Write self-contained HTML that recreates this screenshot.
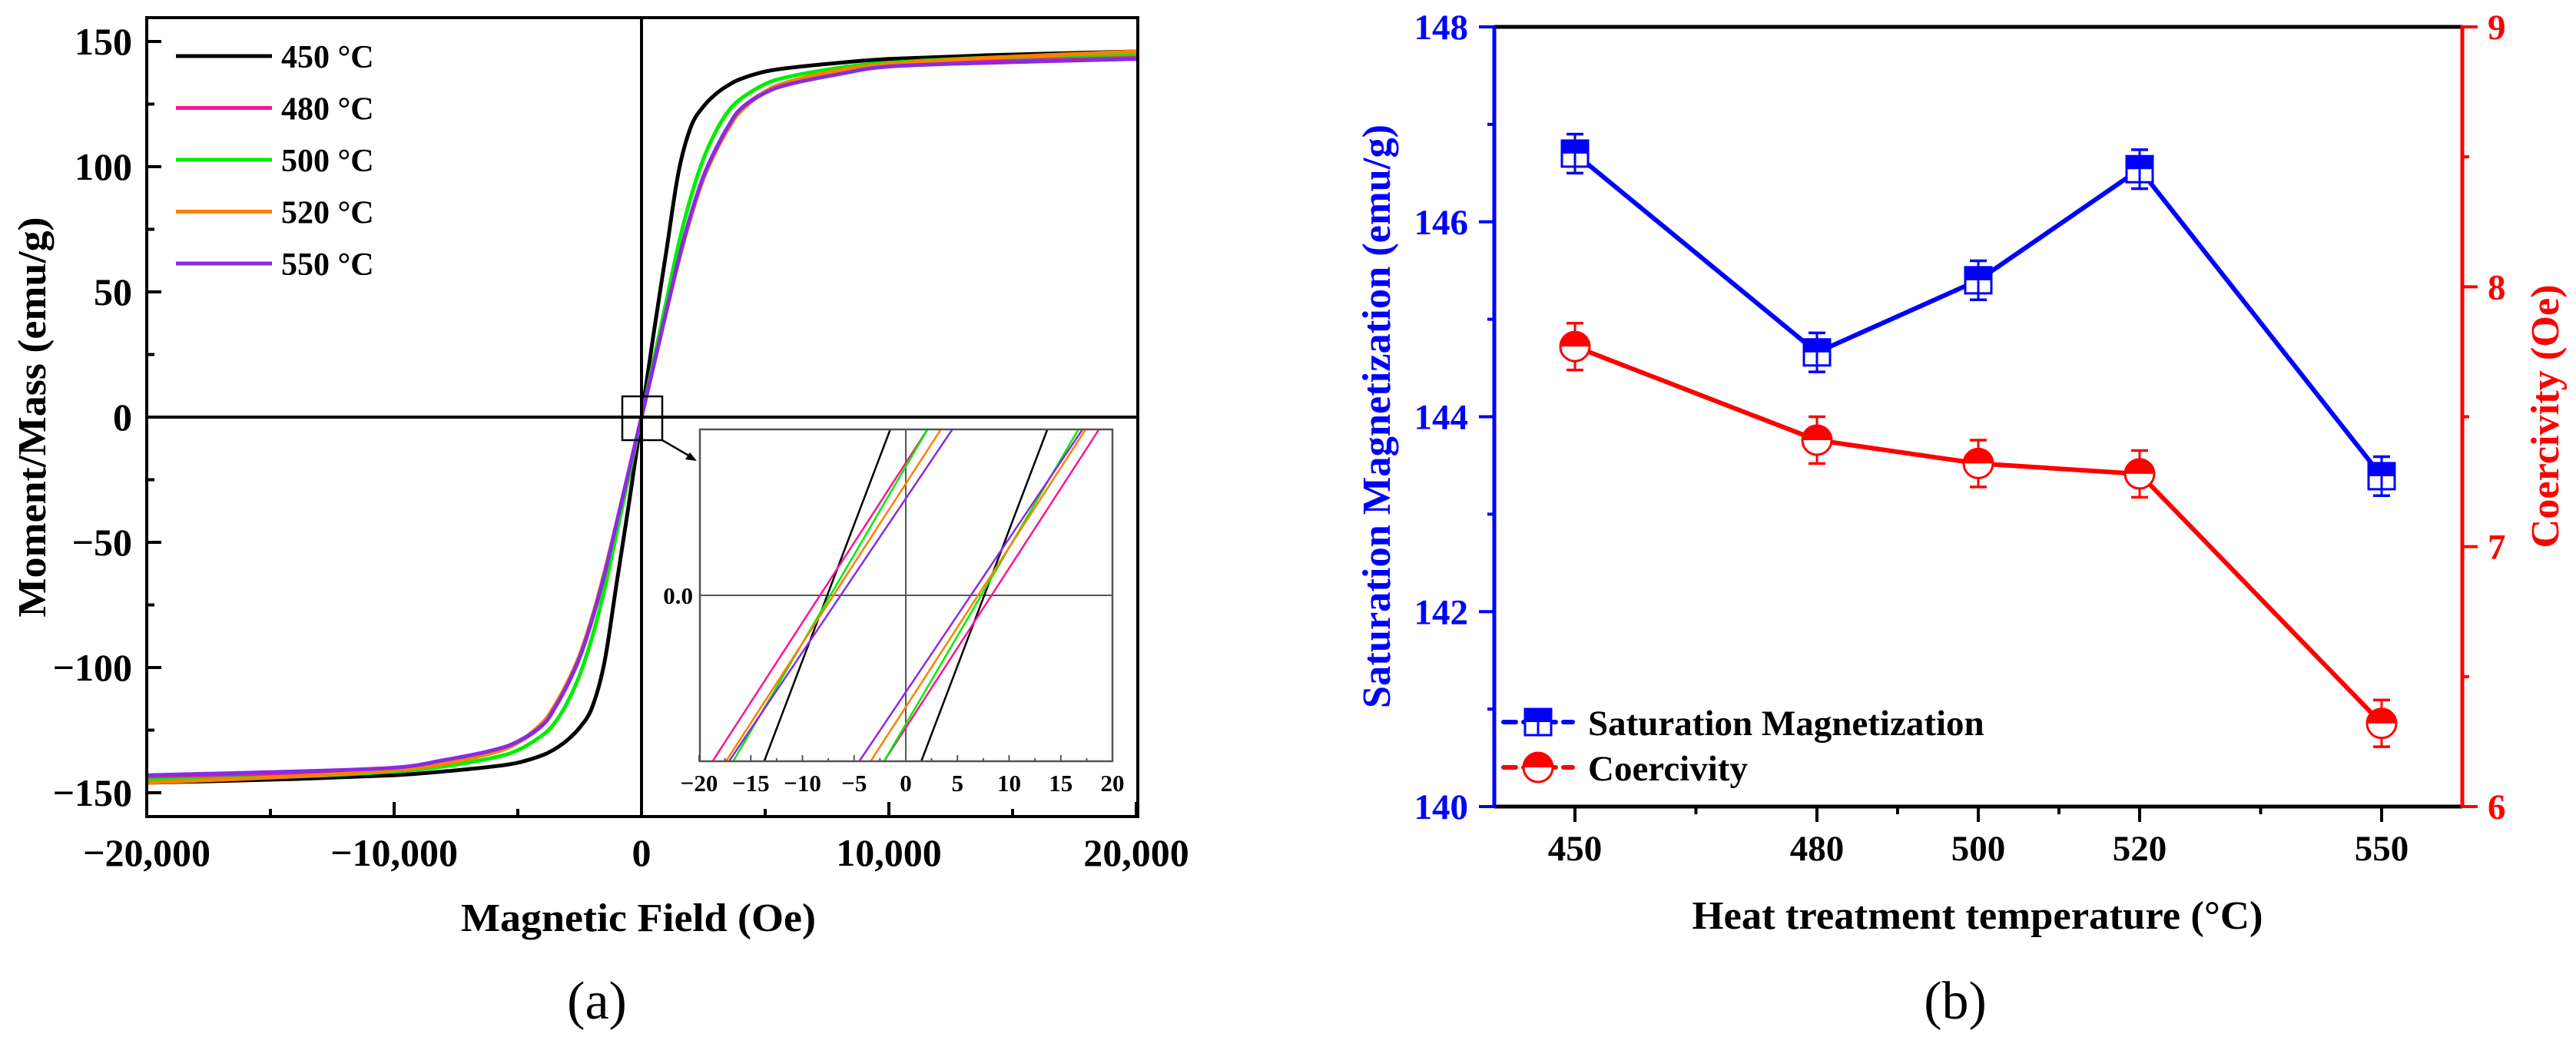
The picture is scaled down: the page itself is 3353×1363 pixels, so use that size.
<!DOCTYPE html>
<html><head><meta charset="utf-8"><style>
html,body{margin:0;padding:0;background:#fff;}
svg{display:block;font-family:"Liberation Serif",serif;font-weight:bold;}
</style></head><body>
<svg id="fig" xmlns="http://www.w3.org/2000/svg" width="3353" height="1363" viewBox="0 0 3353 1363">
<rect width="3353" height="1363" fill="#fff"/>
<g id="pa"></g>
<g id="pb"></g>
</svg>
<script>
// ---------- Panel (a) data ----------
const seriesNames = ["450 °C","480 °C","500 °C","520 °C","550 °C"];
const seriesColors = ["#000000","#ff1493","#00ee00","#ff8000","#8a2be2"];
const fieldH = [0,500,1000,1500,2000,2500,3000,3500,4000,5000,6000,8000,10000,14000,20000];
const m450 = [0,34,66,98,116,124,129,132.5,135,138,139.5,141.5,143,144.5,146];
const m480 = [0,21,42,63,81,96,107,116,123,130,134,138,140.5,142.5,144.5];
const m500 = [0,23,46,69,88,103,114,122,127,133,136,139.5,141.5,143.5,145];
const m520 = [0,21,42,62,80,95,106,115,122,130,134,138.5,141,143.5,146];
const m550 = [0,21,42,63,81,96,107,116,123,129.5,133,137,140,141.5,143];
const aXTicks = [-20000,-10000,0,10000,20000];
const aXTickLabels = ["\u221220,000","\u221210,000","0","10,000","20,000"];
const aYTicks = [-150,-100,-50,0,50,100,150];
const aYTickLabels = ["\u2212150","\u2212100","\u221250","0","50","100","150"];
// inset: coercive field crossing and top-edge x position (Oe) per series
const insetZeroX = [7.6,8.3,7.3,7.0,6.3];
const insetTopX = [13.7,18.7,16.7,17.4,17.1];
const insetTicks = [-20,-15,-10,-5,0,5,10,15,20];
const insetTickLabels = ["\u221220","\u221215","\u221210","\u22125","0","5","10","15","20"];

// ---------- Panel (b) data ----------
const temps = [450,480,500,520,550];
const bXTickLabels = ["450","480","500","520","550"];
const satMag = [146.70,144.66,145.40,146.54,143.39];
const satErr = [0.2,0.2,0.2,0.2,0.2];
const coerc = [7.77,7.41,7.32,7.28,6.32];
const coercErr = [0.09,0.09,0.09,0.09,0.09];
const bLeftTicks = [140,142,144,146,148];
const bRightTicks = [6,7,8,9];

const NS="http://www.w3.org/2000/svg";
function mk(parent,tag,attrs,text){const e=document.createElementNS(NS,tag);for(const k in attrs)e.setAttribute(k,attrs[k]);if(text!==undefined)e.textContent=text;parent.appendChild(e);return e;}
function smooth(pts){let d="M"+pts[0][0].toFixed(1)+","+pts[0][1].toFixed(1);
 for(let i=0;i<pts.length-1;i++){const p0=pts[Math.max(0,i-1)],p1=pts[i],p2=pts[i+1],p3=pts[Math.min(pts.length-1,i+2)];
  const c1=[p1[0]+(p2[0]-p0[0])/6,p1[1]+(p2[1]-p0[1])/6],c2=[p2[0]-(p3[0]-p1[0])/6,p2[1]-(p3[1]-p1[1])/6];
  d+=" C"+c1[0].toFixed(1)+","+c1[1].toFixed(1)+" "+c2[0].toFixed(1)+","+c2[1].toFixed(1)+" "+p2[0].toFixed(1)+","+p2[1].toFixed(1);}
 return d;}

// ---------- Panel (a) drawing ----------
const pa=document.getElementById('pa');
const aL=191,aR=1481,aT=23,aB=1063;
const ax=h=>835+h*(644/20000);
const ay=m=>543-m*(163/50);
const clipA=mk(pa,'clipPath',{id:'clipA'});mk(clipA,'rect',{x:aL,y:aT,width:aR-aL,height:aB-aT});
const allM=[m450,m480,m500,m520,m550];
const curves=mk(pa,'g',{'clip-path':'url(#clipA)'});


allM.forEach((ms,si)=>{
  const pts=[];
  for(let i=fieldH.length-1;i>0;i--)pts.push([ax(-fieldH[i]),ay(-ms[i])]);
  for(let i=0;i<fieldH.length;i++)pts.push([ax(fieldH[i]),ay(ms[i])]);
  const p=mk(curves,'path',{d:smooth(pts),fill:'none',stroke:seriesColors[si],'stroke-width':5,'stroke-linejoin':'round'});
  
  
});
// zero lines
mk(pa,'line',{x1:aL,y1:ay(0),x2:aR,y2:ay(0),stroke:'#000','stroke-width':4,});
mk(pa,'line',{x1:ax(0),y1:aT,x2:ax(0),y2:aB,stroke:'#000','stroke-width':4,});
mk(pa,'rect',{x:aL,y:aT,width:aR-aL,height:aB-aT,fill:'none',stroke:'#000','stroke-width':4,});
// ticks
for(let v=-150;v<=150;v+=25){const maj=v%50===0;const t=mk(pa,'line',{x1:aL,y1:ay(v),x2:aL+(maj?19:10),y2:ay(v),stroke:'#000','stroke-width':4});}
for(let v=-20000;v<=20000;v+=5000){const maj=v%10000===0;const t=mk(pa,'line',{x1:ax(v),y1:aB,x2:ax(v),y2:aB-(maj?19:10),stroke:'#000','stroke-width':4});}
aYTicks.forEach((v,i)=>{const t=mk(pa,'text',{x:172,y:ay(v)+17,'text-anchor':'end','font-size':50},aYTickLabels[i]);});
aXTicks.forEach((v,i)=>{const t=mk(pa,'text',{x:ax(v),y:1127,'text-anchor':'middle','font-size':50},aXTickLabels[i]);});
mk(pa,'text',{x:831,y:1212,'text-anchor':'middle','font-size':52,textLength:462,lengthAdjust:'spacingAndGlyphs',},'Magnetic Field (Oe)');
mk(pa,'text',{x:0,y:0,transform:'translate(59,543) rotate(-90)','text-anchor':'middle','font-size':52,textLength:521,lengthAdjust:'spacingAndGlyphs',},'Moment/Mass (emu/g)');
mk(pa,'text',{x:777,y:1326,'text-anchor':'middle','font-size':70,'font-weight':'normal',},'(a)');
// legend
const lg=mk(pa,'g',{});
seriesNames.forEach((n,i)=>{const y=73+i*67.5;
  const l=mk(lg,'line',{x1:229,y1:y,x2:354,y2:y,stroke:seriesColors[i],'stroke-width':5});
  const t=mk(lg,'text',{x:366,y:y+15,'font-size':42},n);});
// zoom box + arrow
mk(pa,'rect',{x:810,y:516,width:52,height:57,fill:'none',stroke:'#000','stroke-width':2.5,});
mk(pa,'line',{x1:862,y1:573,x2:898,y2:594,stroke:'#000','stroke-width':2.5,});
mk(pa,'polygon',{points:'907,600 892,598 898,589','fill':'#000',});
// inset
const iL=911,iR=1448,iT=559,iB=991;
const ix=v=>1179+v*(iR-1179)/20;
const iy=v=>775-v*(iB-iT)/2;
const ins=mk(pa,'g',{});
mk(ins,'rect',{x:iL,y:iT,width:iR-iL,height:iB-iT,fill:'#fff',stroke:'none'});
const clipI=mk(ins,'clipPath',{id:'clipI'});mk(clipI,'rect',{x:iL,y:iT,width:iR-iL,height:iB-iT});
const il=mk(ins,'g',{'clip-path':'url(#clipI)'});
mk(il,'line',{x1:iL,y1:iy(0),x2:iR,y2:iy(0),stroke:'#555','stroke-width':2});
mk(il,'line',{x1:ix(0),y1:iT,x2:ix(0),y2:iB,stroke:'#555','stroke-width':2});
insetZeroX.forEach((z,i)=>{const top=insetTopX[i],bot=2*z-top;
  const r=mk(il,'line',{x1:ix(bot),y1:iy(-1),x2:ix(top),y2:iy(1),stroke:seriesColors[i],'stroke-width':2.5});
  const l=mk(il,'line',{x1:ix(-top),y1:iy(-1),x2:ix(-bot),y2:iy(1),stroke:seriesColors[i],'stroke-width':2.5});});
mk(ins,'rect',{x:iL,y:iT,width:iR-iL,height:iB-iT,fill:'none',stroke:'#555','stroke-width':2.5});
for(let v=-20;v<=20;v+=2.5){const maj=v%5===0;const t=mk(ins,'line',{x1:ix(v),y1:iB,x2:ix(v),y2:iB-(maj?8:4),stroke:'#555','stroke-width':2});}
insetTicks.forEach((v,i)=>{const t=mk(ins,'text',{x:ix(v),y:1030,'text-anchor':'middle','font-size':31},insetTickLabels[i]);});
mk(ins,'text',{x:902,y:786,'text-anchor':'end','font-size':31,},'0.0');

// ---------- Panel (b) drawing ----------
const pb=document.getElementById('pb');
const bL=1945,bR=3205,bT=35,bB=1050;
const bx=t=>2050+(t-450)*10.5;
const byL=v=>bB-(v-140)*(bB-bT)/8;
const byR=v=>bB-(v-6)*(bB-bT)/3;
const BLUE='#0000ff',RED='#ff0000';
mk(pb,'line',{x1:bL,y1:bT,x2:bR,y2:bT,stroke:'#000','stroke-width':5,});
mk(pb,'line',{x1:bL,y1:bB,x2:bR,y2:bB,stroke:'#000','stroke-width':5,});
mk(pb,'line',{x1:bL,y1:bT-2,x2:bL,y2:bB+2,stroke:BLUE,'stroke-width':5,});
mk(pb,'line',{x1:bR,y1:bT-2,x2:bR,y2:bB+2,stroke:RED,'stroke-width':5,});
for(let v=140;v<=148;v+=1){const maj=v%2===0;const t=mk(pb,'line',{x1:bL,y1:byL(v),x2:bL-(maj?20:9),y2:byL(v),stroke:BLUE,'stroke-width':4});}
for(let v=6;v<=9;v+=0.5){const maj=v%1===0;const t=mk(pb,'line',{x1:bR,y1:byR(v),x2:bR+(maj?20:9),y2:byR(v),stroke:RED,'stroke-width':4});}
bLeftTicks.forEach(v=>{const t=mk(pb,'text',{x:1911,y:byL(v)+16,'text-anchor':'end','font-size':47,fill:BLUE},String(v));});
bRightTicks.forEach(v=>{const t=mk(pb,'text',{x:3238,y:byR(v)+16,'text-anchor':'start','font-size':47,fill:RED},String(v));});
const minorT=[465,490,510,535];
minorT.forEach(v=>{const t=mk(pb,'line',{x1:bx(v),y1:bB,x2:bx(v),y2:bB+10,stroke:'#000','stroke-width':4});});
temps.forEach((v,i)=>{const t=mk(pb,'line',{x1:bx(v),y1:bB,x2:bx(v),y2:bB+20,stroke:'#000','stroke-width':4});
  const l=mk(pb,'text',{x:bx(v),y:1120,'text-anchor':'middle','font-size':47},bXTickLabels[i]);});
mk(pb,'text',{x:2574,y:1209,'text-anchor':'middle','font-size':52,textLength:743,lengthAdjust:'spacingAndGlyphs',},'Heat treatment temperature (°C)');
mk(pb,'text',{x:0,y:0,transform:'translate(1809,542) rotate(-90)','text-anchor':'middle','font-size':52,fill:BLUE,textLength:760,lengthAdjust:'spacingAndGlyphs',},'Saturation Magnetization (emu/g)');
mk(pb,'text',{x:0,y:0,transform:'translate(3330,542) rotate(-90)','text-anchor':'middle','font-size':52,fill:RED,textLength:343,lengthAdjust:'spacingAndGlyphs',},'Coercivity (Oe)');
mk(pb,'text',{x:2545,y:1326,'text-anchor':'middle','font-size':70,'font-weight':'normal',},'(b)');

function squareMarker(g,cx,cy,s,col){
  mk(g,'rect',{x:cx-s/2,y:cy-s/2,width:s,height:s,fill:'#fff',stroke:col,'stroke-width':3});
  mk(g,'rect',{x:cx-s/2,y:cy-s/2,width:s,height:s/2,fill:col});
  mk(g,'line',{x1:cx,y1:cy,x2:cx,y2:cy+s/2,stroke:col,'stroke-width':3});
}
function circleMarker(g,cx,cy,r,col){
  mk(g,'circle',{cx:cx,cy:cy,r:r,fill:'#fff',stroke:col,'stroke-width':3});
  mk(g,'path',{d:`M${cx-r},${cy} A${r},${r} 0 0 1 ${cx+r},${cy} Z`,fill:col});
}
function errBar(g,cx,y1,y2,col){
  mk(g,'line',{x1:cx,y1:y1,x2:cx,y2:y2,stroke:col,'stroke-width':3});
  mk(g,'line',{x1:cx-11,y1:y1,x2:cx+11,y2:y1,stroke:col,'stroke-width':3.5});
  mk(g,'line',{x1:cx-11,y1:y2,x2:cx+11,y2:y2,stroke:col,'stroke-width':3.5});
}
// coercivity series
const cg=mk(pb,'g',{});
mk(cg,'polyline',{points:temps.map((t,i)=>bx(t)+','+byR(coerc[i])).join(' '),fill:'none',stroke:RED,'stroke-width':6,'stroke-linejoin':'round'});
temps.forEach((t,i)=>{const g=mk(cg,'g',{});
  errBar(g,bx(t),byR(coerc[i]+coercErr[i]),byR(coerc[i]-coercErr[i]),RED);circleMarker(g,bx(t),byR(coerc[i]),19,RED);});
// saturation series
const sg=mk(pb,'g',{});
mk(sg,'polyline',{points:temps.map((t,i)=>bx(t)+','+byL(satMag[i])).join(' '),fill:'none',stroke:BLUE,'stroke-width':6,'stroke-linejoin':'round'});
temps.forEach((t,i)=>{const g=mk(sg,'g',{});
  errBar(g,bx(t),byL(satMag[i]+satErr[i]),byL(satMag[i]-satErr[i]),BLUE);squareMarker(g,bx(t),byL(satMag[i]),34,BLUE);});
// legend b
const lb=mk(pb,'g',{});
const e1=mk(lb,'g',{});
mk(e1,'line',{x1:1957,y1:940,x2:2047,y2:940,stroke:BLUE,'stroke-width':6,'stroke-dasharray':'16,10','stroke-linecap':'round'});
squareMarker(e1,2002,940,34,BLUE);
mk(e1,'text',{x:2067,y:957,'font-size':47},'Saturation Magnetization');
const e2=mk(lb,'g',{});
mk(e2,'line',{x1:1957,y1:999,x2:2047,y2:999,stroke:RED,'stroke-width':6,'stroke-dasharray':'16,10','stroke-linecap':'round'});
circleMarker(e2,2002,999,19,RED);
mk(e2,'text',{x:2067,y:1016,'font-size':47},'Coercivity');
</script>
</body></html>
